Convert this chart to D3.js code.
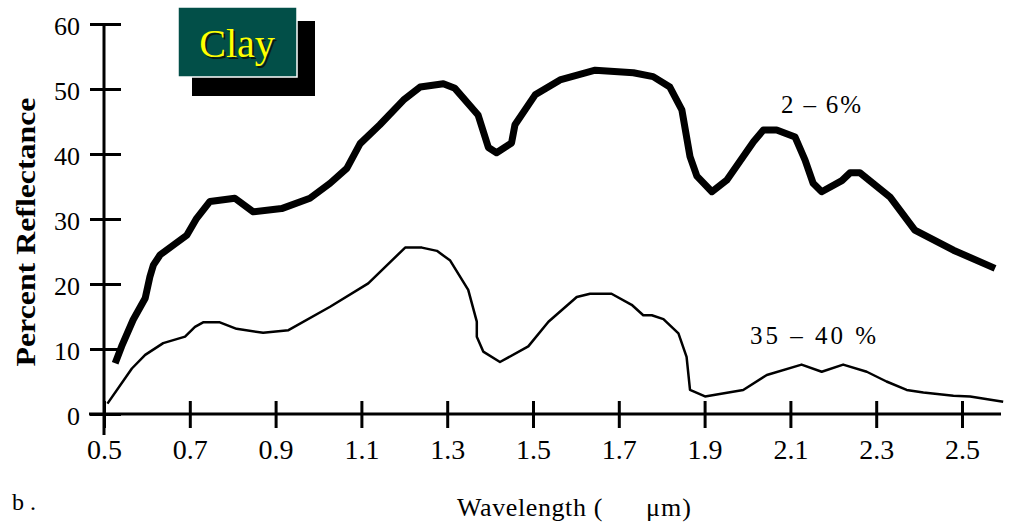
<!DOCTYPE html>
<html>
<head>
<meta charset="utf-8">
<script src="https://cdn.jsdelivr.net/npm/d3@7"></script>
<style>
  body { margin: 0; background: #fff; }
  svg { display: block; font-family: "Liberation Serif", "Times New Roman", serif; }
</style>
</head>
<body>
<div id="chart"></div>
<script>
// wavelength (um) / percent reflectance
const thickWave = [0.526, 0.541, 0.568, 0.596, 0.607, 0.615, 0.631, 0.662, 0.693, 0.716, 0.747, 0.805, 0.848, 0.914, 0.980,
  1.027, 1.066, 1.097, 1.143, 1.198, 1.237, 1.291, 1.318, 1.372, 1.396, 1.415, 1.450, 1.458, 1.505, 1.563, 1.645,
  1.734, 1.780, 1.819, 1.847, 1.866, 1.882, 1.917, 1.952, 2.014, 2.037, 2.068, 2.111, 2.134, 2.153, 2.173, 2.220,
  2.239, 2.262, 2.332, 2.390, 2.480, 2.577];
const thickRefl = [7.8, 10.4, 14.5, 17.8, 21.1, 22.9, 24.5, 26.0, 27.5, 30.1, 32.7, 33.2, 31.1, 31.6, 33.2,
  35.5, 37.8, 41.6, 44.5, 48.3, 50.3, 50.8, 50.1, 46.0, 41.0, 40.2, 41.7, 44.5, 49.1, 51.4, 52.9,
  52.5, 51.9, 50.3, 46.8, 39.6, 36.6, 34.2, 36.0, 41.9, 43.7, 43.7, 42.6, 39.1, 35.5, 34.2, 35.9,
  37.1, 37.1, 33.4, 28.3, 25.2, 22.4];

const thinWave = [0.508, 0.565, 0.596, 0.638, 0.689, 0.712, 0.731, 0.770, 0.809, 0.871, 0.930, 1.027, 1.116, 1.202,
  1.241, 1.276, 1.307, 1.349, 1.369, 1.369, 1.384, 1.423, 1.489, 1.536, 1.602, 1.633, 1.683, 1.730, 1.757,
  1.777, 1.804, 1.839, 1.858, 1.866, 1.901, 1.990, 2.045, 2.126, 2.173, 2.223, 2.278, 2.324, 2.371, 2.410,
  2.480, 2.519, 2.596];
const thinRefl = [1.6, 7.0, 9.1, 10.9, 11.9, 13.4, 14.1, 14.1, 13.1, 12.5, 12.9, 16.5, 20.1, 25.6,
  25.6, 25.1, 23.6, 19.1, 14.2, 11.9, 9.6, 8.0, 10.4, 14.2, 18.0, 18.5, 18.5, 16.8, 15.2,
  15.2, 14.6, 12.4, 8.8, 3.7, 2.7, 3.7, 6.0, 7.6, 6.5, 7.6, 6.5, 5.0, 3.7, 3.3,
  2.8, 2.7, 1.9];

const xTicks = [0.5, 0.7, 0.9, 1.1, 1.3, 1.5, 1.7, 1.9, 2.1, 2.3, 2.5];
const yTicks = [0, 10, 20, 30, 40, 50, 60];

const width = 1016, height = 527;

const svg = d3.select("#chart").append("svg")
    .attr("width", width)
    .attr("height", height);

const x = d3.scaleLinear().domain([0.5, 2.5]).range([104, 962]);
const y = d3.scaleLinear().domain([0, 60]).range([414, 24]);

// Clay badge (shadow block behind, green box on top)
svg.append("rect")
    .attr("x", 192).attr("y", 21).attr("width", 123).attr("height", 75)
    .attr("fill", "#000");
svg.append("rect")
    .attr("x", 178).attr("y", 7).attr("width", 119).attr("height", 70)
    .attr("fill", "#024f48")
    .attr("stroke", "#fff").attr("stroke-width", 1.5);
svg.append("text")
    .attr("x", 239).attr("y", 59)
    .attr("text-anchor", "middle")
    .attr("font-size", 40)
    .attr("fill", "#0a1a12")
    .text("Clay");
svg.append("text")
    .attr("x", 237).attr("y", 57)
    .attr("text-anchor", "middle")
    .attr("font-size", 40)
    .attr("fill", "#ffff00")
    .text("Clay");

// x axis
const xAxis = svg.append("g")
    .attr("transform", `translate(0,${y(0)})`)
    .call(d3.axisBottom(x).tickValues(xTicks).tickFormat(d3.format(".1f")));
xAxis.select(".domain").remove();
xAxis.selectAll(".tick line")
    .attr("y1", -13).attr("y2", 14)
    .attr("stroke", "#000").attr("stroke-width", 3);
xAxis.selectAll(".tick text")
    .attr("y", 45).attr("dy", 0)
    .attr("font-size", 28)
    .attr("font-family", "Liberation Serif")
    .attr("fill", "#000");
xAxis.append("line")
    .attr("x1", 89).attr("x2", 1001)
    .attr("stroke", "#000").attr("stroke-width", 3);

// y axis
const yAxis = svg.append("g")
    .attr("transform", `translate(${x(0.5)},0)`)
    .call(d3.axisLeft(y).tickValues(yTicks));
yAxis.select(".domain").remove();
yAxis.selectAll(".tick line")
    .attr("x1", -14).attr("x2", 17)
    .attr("stroke", "#000").attr("stroke-width", 3);
yAxis.selectAll(".tick text")
    .attr("x", -24).attr("dy", 10)
    .attr("font-size", 26)
    .attr("font-family", "Liberation Serif")
    .attr("fill", "#000");
yAxis.append("line")
    .attr("y1", y(60) - 1).attr("y2", 435)
    .attr("stroke", "#000").attr("stroke-width", 3);

// curves
const line = d3.line()
    .x(d => x(d[0]))
    .y(d => y(d[1]));

svg.append("path")
    .datum(d3.zip(thickWave, thickRefl))
    .attr("d", line)
    .attr("fill", "none")
    .attr("stroke", "#000")
    .attr("stroke-width", 7)
    .attr("stroke-linejoin", "round");

svg.append("path")
    .datum(d3.zip(thinWave, thinRefl))
    .attr("d", line)
    .attr("fill", "none")
    .attr("stroke", "#000")
    .attr("stroke-width", 2.5)
    .attr("stroke-linejoin", "round");

// labels
svg.append("text")
    .attr("x", 781).attr("y", 113)
    .attr("font-size", 25)
    .attr("textLength", 80).attr("lengthAdjust", "spacing")
    .text("2 – 6%");

svg.append("text")
    .attr("x", 750).attr("y", 344)
    .attr("font-size", 25)
    .attr("textLength", 126).attr("lengthAdjust", "spacing")
    .text("35 – 40  %");

svg.append("text")
    .attr("transform", "translate(35,232) rotate(-90)")
    .attr("text-anchor", "middle")
    .attr("font-size", 28)
    .attr("font-weight", "bold")
    .attr("textLength", 269).attr("lengthAdjust", "spacingAndGlyphs")
    .text("Percent Reflectance");

svg.append("text")
    .attr("x", 457).attr("y", 516)
    .attr("font-size", 26)
    .attr("letter-spacing", 0.6)
    .text("Wavelength (");
svg.append("text")
    .attr("x", 646).attr("y", 516)
    .attr("font-size", 26)
    .attr("letter-spacing", 1)
    .text("μm)");

svg.append("text")
    .attr("x", 12).attr("y", 510)
    .attr("font-size", 24)
    .attr("textLength", 24).attr("lengthAdjust", "spacing")
    .text("b.");
</script>
</body>
</html>
